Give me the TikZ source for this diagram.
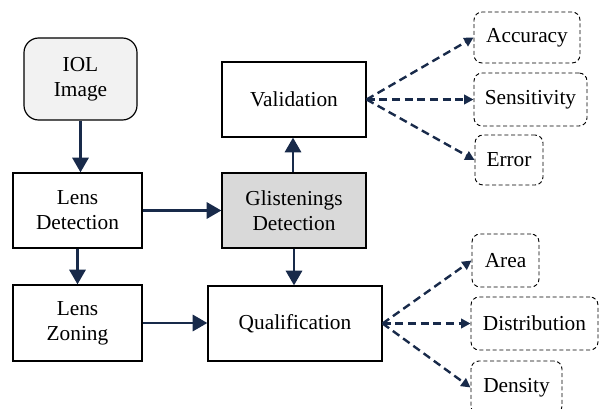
\documentclass[tikz,border=0pt]{standalone}
\usepackage{fontspec}
\setmainfont{Liberation Serif}
\usetikzlibrary{arrows.meta}
\definecolor{navy}{RGB}{24,42,74}
\definecolor{lightg}{RGB}{242,242,242}
\definecolor{midg}{RGB}{217,217,217}
\begin{document}
\begin{tikzpicture}[x=0.75pt,y=-0.75pt,
  box/.style={draw=black,line width=0.9pt,rectangle,align=center,inner sep=2pt,
    font=\fontsize{16}{18.75}\selectfont},
  outbox/.style={draw=black,line width=0.7pt,densely dashed,rounded corners=6pt,rectangle,align=center,
    font=\fontsize{16}{18.75}\selectfont},
  solidarrow/.style={draw=navy,line width=2.2pt,-{Triangle[length=11pt,width=12pt]}},
  dasharrow/.style={draw=navy,line width=1.8pt,dash pattern=on 6pt off 3.5pt,-{Triangle[length=7pt,width=7pt]}}]
\useasboundingbox (0,0) rectangle (599,409);
\node[box,rounded corners=11pt,fill=lightg,minimum width={113*0.75pt},minimum height={82*0.75pt}] (iol) at (80.5,79) {IOL\\Image};
\node[box,minimum width={129*0.75pt},minimum height={75*0.75pt}] (ldet) at (77.5,210.5) {Lens\\Detection};
\node[box,fill=midg,minimum width={144*0.75pt},minimum height={75*0.75pt}] (glis) at (294,210.5) {Glistenings\\Detection};
\node[box,minimum width={144*0.75pt},minimum height={75*0.75pt}] (valid) at (294,99.5) {Validation};
\node[box,minimum width={129*0.75pt},minimum height={76*0.75pt}] (lzon) at (77.5,323) {Lens\\Zoning};
\node[box,minimum width={174*0.75pt},minimum height={75*0.75pt}] (qual) at (295,323.5) {Qualification};
\node[outbox,minimum width={106*0.75pt},minimum height={51*0.75pt}] (acc) at (527,37.5) {Accuracy};
\node[outbox,minimum width={113*0.75pt},minimum height={53*0.75pt}] (sens) at (530.5,99.5) {Sensitivity};
\node[outbox,minimum width={68*0.75pt},minimum height={50*0.75pt}] (err) at (509,160) {Error};
\node[outbox,minimum width={67*0.75pt},minimum height={53*0.75pt}] (area) at (505.5,260.5) {Area};
\node[outbox,minimum width={127*0.75pt},minimum height={53*0.75pt}] (dist) at (534.5,323.5) {Distribution};
\node[outbox,minimum width={91*0.75pt},minimum height={53*0.75pt}] (dens) at (516.5,387.5) {Density};
\draw[solidarrow] (iol.south) -- (iol.south |- ldet.north);
\draw[solidarrow] (ldet.east) -- (ldet.east -| glis.west);
\draw[solidarrow] (ldet.south) -- (ldet.south |- lzon.north);
\draw[solidarrow] ([xshift=-0.75pt]glis.north) -- ([xshift=-0.75pt]glis.north |- valid.south);
\draw[solidarrow] (glis.south) -- (glis.south |- qual.north);
\draw[solidarrow] (lzon.east) -- (lzon.east -| qual.west);
\draw[dasharrow] (valid.east) -- (acc.west);
\draw[dasharrow] (valid.east) -- (sens.west);
\draw[dasharrow] (valid.east) -- (err.west);
\draw[dasharrow] (qual.east) -- (area.west);
\draw[dasharrow] (qual.east) -- (dist.west);
\draw[dasharrow] (qual.east) -- (dens.west);
\end{tikzpicture}
\end{document}
